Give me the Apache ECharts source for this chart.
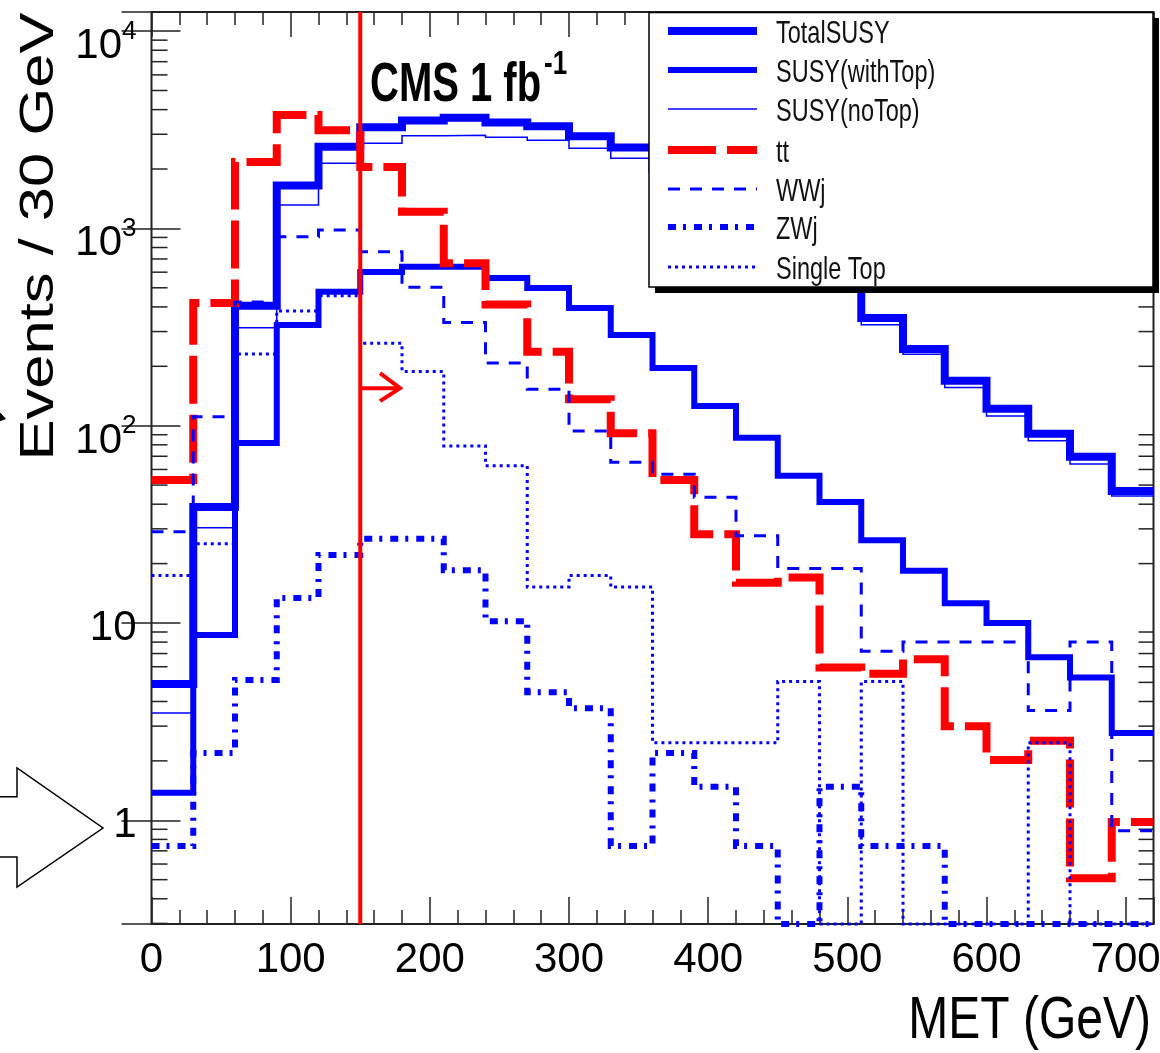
<!DOCTYPE html>
<html>
<head>
<meta charset="utf-8">
<script src="https://cdn.jsdelivr.net/npm/echarts@6/dist/echarts.min.js"></script>
<style>
html,body{margin:0;padding:0;background:#fff;}
#c{width:1160px;height:1053px;}
</style>
</head>
<body>
<div id="c"></div>
<script>
// ---------------- data ----------------
const BIN_WIDTH = 30;
const BIN_LOW_EDGES = [0,30,60,90,120,150,180,210,240,270,300,330,360,390,420,450,480,510,540,570,600,630,660,690];
const X_MAX = 720;
const Y_MIN = 0.298;
const Y_MAX = 12500;

const TOTAL_SUSY    = [4.9, 38.7, 405, 1650, 2590, 3260, 3520, 3640, 3440, 3290, 2930, 2570, 2000, 1480, 1090, 780, 540, 351, 245, 169, 122, 91, 69.5, 46.7];
const SUSY_WITH_TOP = [1.38, 8.7, 81.7, 324, 478, 602, 640, 640, 561, 499, 395, 288, 196, 126, 87, 55.8, 41, 26.3, 18.4, 12.6, 10.0, 6.7, 5.3, 2.77];
const SUSY_NO_TOP   = [3.5, 30.4, 314, 1315, 2138, 2700, 2950, 2970, 2900, 2800, 2550, 2270, 1800, 1350, 1000, 720, 500, 325, 230, 156, 112, 84, 64, 44];
const TT            = [53, 419, 2168, 3756, 3140, 2047, 1216, 665, 412, 237, 136, 91.5, 53, 28.2, 16.0, 17.0, 5.95, 5.53, 6.55, 3.0, 2.02, 2.53, 0.508, 0.98];
const WWJ           = [29, 111, 424, 908, 982, 762, 503, 333, 208, 153, 94, 65.2, 56.7, 43.4, 27.7, 18.9, 18.9, 7.2, 8.0, 8.0, 8.0, 3.6, 8.0, 0.886];
const ZWJ           = [0.74, 2.19, 5.14, 13.4, 22.1, 26.7, 26.7, 18.5, 10.2, 4.45, 3.7, 0.74, 2.19, 1.48, 0.74, 0, 1.48, 0.74, 0.74, 0, 0, 0, 0, 0];
const SINGLE_TOP    = [17.4, 25.2, 231, 381, 456, 262, 188, 78.9, 62.7, 15.2, 17.4, 15.2, 2.47, 2.47, 2.47, 5.05, 0, 5.05, 0, 0, 0, 2.47, 0, 0];

const MET_CUT = 150;
const CUT_ARROW = [150, 178.6, 155];           // x from, x to, y level
const X_TICK_LABELS = [0, 100, 200, 300, 400, 500, 600, 700];
const Y_DECADE_LABELS = [1, 10, 100, 1000, 10000];
const LEGEND_NAMES = ['TotalSUSY', 'SUSY(withTop)', 'SUSY(noTop)', 'tt', 'WWj', 'ZWj', 'Single Top'];
const TITLE_Y = 'Events / 30 GeV';
const TITLE_X = 'MET (GeV)';
const LUMI_TEXT = 'CMS 1 fb';
const LUMI_SUP = '-1';

// ---------------- styles ----------------
const BLUE = '#0000ff', RED = '#ff0000';
const REG = "'Liberation Sans',Arial,Helvetica,sans-serif";
const STYLES = [
  {color: BLUE, width: 8,   type: 'solid'},
  {color: BLUE, width: 6,   type: 'solid'},
  {color: BLUE, width: 1.5, type: 'solid'},
  {color: RED,  width: 8,   type: [48, 11]},
  {color: BLUE, width: 3,   type: [12, 10]},
  {color: BLUE, width: 6,   type: [8, 7, 3, 8]},
  {color: BLUE, width: 3,   type: [3, 4]}
];
const SERIES_VALUES = [TOTAL_SUSY, SUSY_WITH_TOP, SUSY_NO_TOP, TT, WWJ, ZWJ, SINGLE_TOP];

function stepData(vals) {
  const d = vals.map((v, i) => [BIN_LOW_EDGES[i], v > 0 ? v : Y_MIN]);
  const last = vals[vals.length - 1];
  d.push([BIN_LOW_EDGES[vals.length - 1] + BIN_WIDTH, last > 0 ? last : Y_MIN]);
  return d;
}

// minor log ticks 2..9 x 10^k
const MINOR_Y = [];
for (let k = -1; k <= 4; k++) {
  for (let m = 2; m <= 9; m++) {
    const v = m * Math.pow(10, k);
    if (v >= Y_MIN && v <= Y_MAX) MINOR_Y.push(v);
  }
}

const tickLine = {color: '#222', width: 1.5};

function xAxisDef(pos, interval, len, labels) {
  return {
    type: 'value', min: 0, max: X_MAX, interval: interval, position: pos,
    axisLine: {show: false}, splitLine: {show: false},
    axisTick: {show: true, inside: true, length: len, lineStyle: tickLine},
    axisLabel: labels ? {
      show: true, margin: 15, color: '#000', fontSize: 42, fontFamily: REG,
      formatter: v => X_TICK_LABELS.indexOf(v) >= 0 ? String(v) : ''
    } : {show: false}
  };
}

function yLabel(v) {
  const lg = Math.log10(v);
  const e = Math.round(lg);
  if (Math.abs(lg - e) > 1e-6) return '';
  const val = Math.pow(10, e);
  if (Y_DECADE_LABELS.indexOf(val) < 0) return '';
  if (e === 0) return '{b|1}';
  if (e === 1) return '{b|10}';
  return '{p|10}{s|' + e + '}';
}

const series = SERIES_VALUES.map((vals, i) => ({
  name: LEGEND_NAMES[i],
  type: 'line',
  step: 'end',
  data: stepData(vals),
  symbol: 'none',
  showSymbol: false,
  clip: false,
  animation: false,
  silent: true,
  z: 3 + i,
  lineStyle: {color: STYLES[i].color, width: STYLES[i].width, type: STYLES[i].type, cap: 'butt', join: 'miter'}
}));

// minor y ticks (left and right)
series.unshift({
  type: 'custom', silent: true, animation: false, z: 1,
  data: MINOR_Y.map(v => [0, v]),
  renderItem: function (params, api) {
    const v = api.value(1);
    const pL = api.coord([0, v]);
    const pR = api.coord([X_MAX, v]);
    return {type: 'group', children: [
      {type: 'line', shape: {x1: pL[0], y1: pL[1], x2: pL[0] + 16, y2: pL[1]}, style: {stroke: '#222', lineWidth: 1.5}},
      {type: 'line', shape: {x1: pR[0] - 15, y1: pR[1], x2: pR[0], y2: pR[1]}, style: {stroke: '#222', lineWidth: 1.5}}
    ]};
  }
});

// MET cut line
series.push({
  type: 'line', data: [[MET_CUT, Y_MIN], [MET_CUT, Y_MAX]], symbol: 'none', clip: false,
  animation: false, silent: true, z: 20,
  lineStyle: {color: RED, width: 4}
});

// cut arrow
series.push({
  type: 'custom', silent: true, animation: false, z: 21,
  data: [CUT_ARROW],
  renderItem: function (params, api) {
    const a = api.coord([api.value(0), api.value(2)]);
    const b = api.coord([api.value(1), api.value(2)]);
    return {type: 'group', children: [
      {type: 'line', shape: {x1: a[0], y1: a[1], x2: b[0], y2: b[1]}, style: {stroke: RED, lineWidth: 4}},
      {type: 'polyline', shape: {points: [[b[0] - 20, b[1] - 15], [b[0], b[1]], [b[0] - 20, b[1] + 13]]}, style: {stroke: RED, lineWidth: 4, fill: null}}
    ]};
  }
});

// ---------------- legend & texts (graphic) ----------------
const LX1 = 668, LX2 = 757, LTX = 776;
const LROWS = [31, 70, 109, 150, 189, 227, 267];
const graphics = [
  {type: 'rect', z: 100, shape: {x: 655, y: 18, width: 504, height: 275}, style: {fill: '#000'}},
  {type: 'rect', z: 101, shape: {x: 649, y: 12.5, width: 504, height: 274.5}, style: {fill: '#fff', stroke: '#000', lineWidth: 1.5}}
];
LEGEND_NAMES.forEach((name, i) => {
  const st = STYLES[i];
  graphics.push({type: 'line', z: 102, shape: {x1: LX1, y1: LROWS[i], x2: LX2, y2: LROWS[i]},
    style: {stroke: st.color, lineWidth: st.width, lineDash: Array.isArray(st.type) ? st.type : null, lineCap: 'butt'}});
  graphics.push({type: 'text', z: 102, x: LTX, y: LROWS[i] + 3.5, scaleY: 1.3,
    style: {text: name, x: 0, y: 0, fill: '#111', font: '23.5px ' + REG, align: 'left', verticalAlign: 'middle'}});
});
// y title
graphics.push({type: 'text', z: 50, x: 39.8, y: 236.5, rotation: Math.PI / 2, scaleX: 1.256,
  style: {text: TITLE_Y, x: 0, y: 0, fill: '#000', font: '49px ' + REG, align: 'center', verticalAlign: 'middle'}});
// x title
graphics.push({type: 'text', z: 50, x: 1151, y: 1021.4, scaleY: 1.25,
  style: {text: TITLE_X, x: 0, y: 0, fill: '#000', font: '48px ' + REG, align: 'right', verticalAlign: 'middle'}});
// CMS label
graphics.push({type: 'text', z: 50, x: 370, y: 85.6, scaleY: 1.4,
  style: {text: LUMI_TEXT, x: 0, y: 0, fill: '#000', font: 'bold 40px ' + REG, align: 'left', verticalAlign: 'middle'}});
graphics.push({type: 'text', z: 50, x: 544, y: 64.5, scaleY: 1.3,
  style: {text: LUMI_SUP, x: 0, y: 0, fill: '#000', font: 'bold 26px ' + REG, align: 'left', verticalAlign: 'middle'}});
// slide annotation arrows at the left edge
graphics.push({type: 'polygon', z: 50, shape: {points: [[-5, 796.7], [17, 796.7], [17, 768], [103, 828], [17, 887], [17, 857], [-5, 857]]},
  style: {fill: '#fff', stroke: '#000', lineWidth: 1.5}});
graphics.push({type: 'polygon', z: 50, shape: {points: [[-2, 410], [6, 419], [-2, 422]]}, style: {fill: '#000'}});

const option = {
  backgroundColor: '#fff',
  animation: false,
  grid: {left: 151.5, right: 6.5, top: 12, bottom: 129, containLabel: false, outerBoundsMode: 'none',
    show: true, borderColor: '#222', borderWidth: 2, backgroundColor: '#fff'},
  xAxis: [
    xAxisDef('bottom', 100, 27, true),
    xAxisDef('bottom', 20, 14, false),
    xAxisDef('top', 100, 25, false),
    xAxisDef('top', 20, 13, false)
  ],
  yAxis: [
    {type: 'log', min: Y_MIN, max: Y_MAX, position: 'left',
      axisLine: {show: false}, splitLine: {show: false}, minorTick: {show: false},
      axisTick: {show: true, inside: true, length: 29, lineStyle: tickLine},
      axisLabel: {show: true, margin: 15, color: '#000', formatter: yLabel,
        rich: {
          b: {fontSize: 42, fontFamily: REG, color: '#000', padding: [11, 0, 0, 0]},
          p: {fontSize: 42, fontFamily: REG, color: '#000', padding: [31, 0, 0, 0], verticalAlign: 'bottom'},
          s: {fontSize: 26, fontFamily: REG, color: '#000', padding: [24, 0, 0, 0], verticalAlign: 'top'}
        }}},
    {type: 'log', min: Y_MIN, max: Y_MAX, position: 'right',
      axisLine: {show: false}, splitLine: {show: false}, minorTick: {show: false},
      axisTick: {show: true, inside: true, length: 30, lineStyle: tickLine},
      axisLabel: {show: false}}
  ],
  series: series,
  graphic: graphics
};

const chart = echarts.init(document.getElementById('c'), null, {renderer: 'canvas', width: 1160, height: 1053});
chart.setOption(option);
</script>
</body>
</html>
